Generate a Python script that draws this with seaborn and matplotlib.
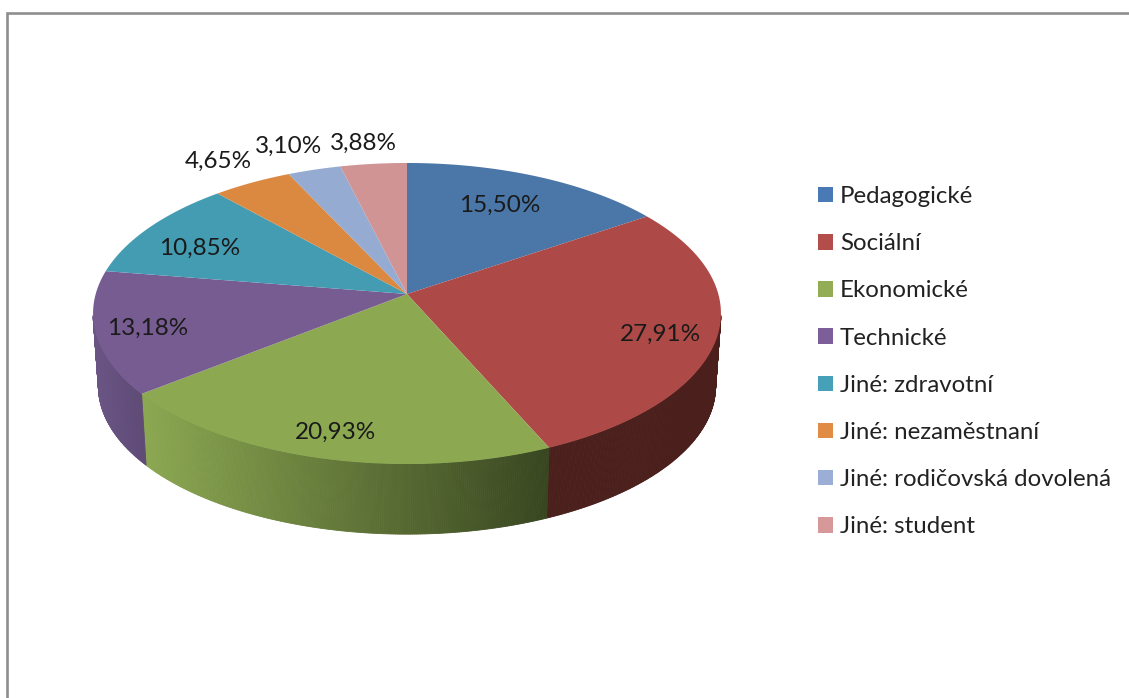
import numpy as np
import matplotlib
matplotlib.use('Agg')
import matplotlib.pyplot as plt
import matplotlib.colors as mcolors
from matplotlib.path import Path
from matplotlib.patches import Patch
import seaborn as sns

categories = ['Pedagogické', 'Sociální', 'Ekonomické', 'Technické', 'Jiné: zdravotní',
              'Jiné: nezaměstnaní', 'Jiné: rodičovská dovolená', 'Jiné: student']
values = [15.50, 27.91, 20.93, 13.18, 10.85, 4.65, 3.10, 3.88]

top_colors = ['#4a76a8', '#ad4a47', '#8ca851', '#775c92', '#449cb2', '#db8841', '#96abd1', '#d09494']
legend_colors = ['#4a7ab5', '#b34d4a', '#92ad55', '#7c5f99', '#46a0b8', '#e08c45', '#9aaed6', '#d69898']
# wall shade at left and right end of the visible side
wall_left = {1: '#4a1f1c', 2: '#8ca851', 3: '#6a5585'}
wall_right = {1: '#4a1f1c', 2: '#384620', 3: '#5f4b76'}

label_xy = [(500, 205), (660, 334), (336, 432), (148, 328), (200, 248), (218, 161), (289, 146), (363, 143)]

# pie geometry in pixels
cx, cy = 407, 294
rx, ry, k = 311.3, 148, 0.1296
scale_bottom, drop = 0.983, 73


def project(theta):
    # perspective view of the pie top, theta in degrees
    u = np.cos(np.radians(theta))
    v = np.sin(np.radians(theta))
    w = 1 + k * v
    return cx + rx * u / w, cy - ry * v / w


def project_bottom(theta):
    x, y = project(theta)
    return cx + (x - cx) * scale_bottom, cy + (y - cy) * scale_bottom + drop


sns.set_theme(style='white')
plt.rcParams['font.family'] = ['Lato', 'DejaVu Sans']

fig = plt.figure(figsize=(11.29, 6.98), dpi=100)
ax = fig.add_axes([0, 0, 1, 1])

wedges, _ = ax.pie(values, colors=sns.color_palette(top_colors), startangle=90, counterclock=False)
ax.set_aspect('auto')
ax.set_xlim(0, 1129)
ax.set_ylim(698, 0)
ax.axis('off')

# side wall, thin strips from the wedge angles (front part only)
for i, w in enumerate(wedges):
    if i not in wall_left:
        continue
    t = np.linspace(w.theta1, w.theta2, max(int(w.theta2 - w.theta1) * 3, 2))
    t = t[np.sin(np.radians(t)) < -0.14]
    c0 = np.array(mcolors.to_rgb(wall_left[i]))
    c1 = np.array(mcolors.to_rgb(wall_right[i]))
    x_all = project(t)[0]
    for a, b in zip(t[:-1], t[1:]):
        xa, ya = project(a)
        xb, yb = project(b)
        xc, yc = project_bottom(b)
        xd, yd = project_bottom(a)
        f = ((xa + xb) / 2 - x_all.min()) / (x_all.max() - x_all.min())
        col = c0 + (c1 - c0) * f
        ax.fill([xa, xb, xc, xd], [ya, yb, yc, yd], color=col, lw=0.6, zorder=1)

# top face: reshape the pie wedges to the perspective view
for w in wedges:
    t = np.linspace(w.theta1, w.theta2, 120)
    x, y = project(t)
    verts = [(cx, cy)] + list(zip(x, y)) + [(cx, cy)]
    w._path = Path(verts, closed=True)
    w.set_zorder(2)
    w.set_linewidth(0)

for v, (x, y) in zip(values, label_xy):
    ax.text(x, y, f'{v:.2f}'.replace('.', ',') + '%', ha='center', va='center',
            fontsize=17.5, color='#1a1a1a', zorder=3)

handles = [Patch(facecolor=c, edgecolor='none') for c in legend_colors]
ax.legend(handles, categories, loc='upper left', bbox_to_anchor=(818 / 1129, 1 - 186 / 698),
          bbox_transform=fig.transFigure, frameon=False, fontsize=17.3, labelcolor='#222222',
          handlelength=0.62, handleheight=0.62, handletextpad=0.3, labelspacing=1.09,
          borderpad=0, borderaxespad=0)

# screenshot frame
ax.plot([7, 7, 1129], [698, 13, 13], color='#8e8e8e', lw=1.9, solid_joinstyle='miter')

fig.savefig('out.png', dpi=100)
